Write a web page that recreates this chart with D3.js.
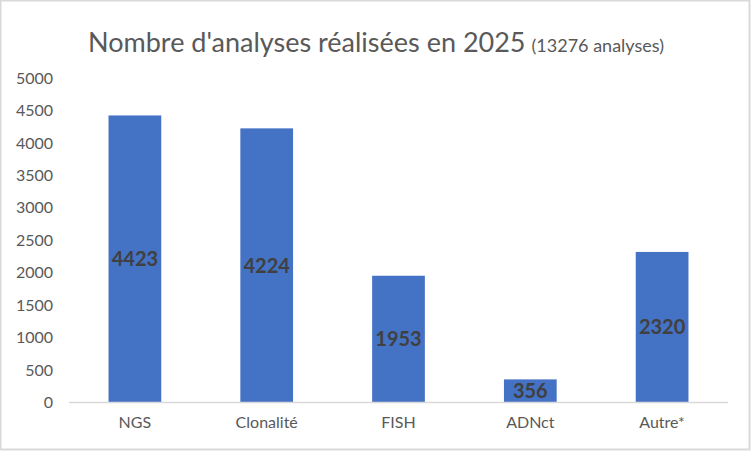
<!DOCTYPE html>
<html><head><meta charset="utf-8">
<script src="https://cdn.jsdelivr.net/npm/d3@7"></script>
<style>body{margin:0;background:#fff}svg{display:block}text{font-family:Lato,"Open Sans",sans-serif}</style>
</head><body>
<svg id="c" width="752" height="452"></svg>
<script>
const categories = ["NGS","Clonalité","FISH","ADNct","Autre*"];
const values = [4423,4224,1953,356,2320];
const yTicks = [0,500,1000,1500,2000,2500,3000,3500,4000,4500,5000];
const titleMain = "Nombre d'analyses réalisées en 2025";
const titleSub = "(13276 analyses)";

const svg = d3.select("#c");
svg.append("rect").attr("x",0.5).attr("y",0.5).attr("width",749).attr("height",449)
  .attr("fill","#fff").attr("stroke","#d9d9d9").attr("stroke-width",2);

const m = {left:69, right:728, top:78, bottom:402.5};
const x = d3.scaleBand().domain(categories).range([m.left,m.right]).paddingInner(0.6).paddingOuter(0.3);
const y = d3.scaleLinear().domain([0,5000]).range([m.bottom,m.top]);

// title
const t = svg.append("text").attr("x",376).attr("y",52).attr("text-anchor","middle").attr("fill","#595959");
t.append("tspan").attr("font-size",27).text(titleMain);
t.append("tspan").attr("font-size",18).attr("dx",6).text(titleSub);

// y axis
const ya = svg.append("g").attr("transform",`translate(${m.left},0)`)
  .call(d3.axisLeft(y).tickValues(yTicks).tickFormat(d3.format("d")).tickSize(0).tickPadding(16));
ya.select(".domain").remove();
ya.selectAll("text").attr("font-size",16).attr("fill","#595959").attr("font-family","Lato");

// bars
svg.selectAll("rect.bar").data(values).join("rect").attr("class","bar")
  .attr("x",(d,i)=>x(categories[i])).attr("width",x.bandwidth())
  .attr("y",d=>y(d)).attr("height",d=>y(0)-y(d)).attr("fill","#4472C4");

// baseline
svg.append("line").attr("x1",m.left).attr("x2",m.right).attr("y1",y(0)).attr("y2",y(0))
  .attr("stroke","#d9d9d9").attr("stroke-width",1.5);

// x axis
const xa = svg.append("g").attr("transform",`translate(0,${y(0)})`)
  .call(d3.axisBottom(x).tickSize(0).tickPadding(14));
xa.select(".domain").remove();
xa.selectAll("text").attr("font-size",16).attr("fill","#595959").attr("font-family","Lato");

// value labels
svg.selectAll("text.val").data(values).join("text").attr("class","val")
  .attr("x",(d,i)=>x(categories[i])+x.bandwidth()/2)
  .attr("y",d=>(y(d)+y(0))/2).attr("dy","0.36em").attr("text-anchor","middle")
  .attr("font-size",20).attr("font-weight","bold").attr("fill","#404040").text(d=>d);
</script>
</body></html>
